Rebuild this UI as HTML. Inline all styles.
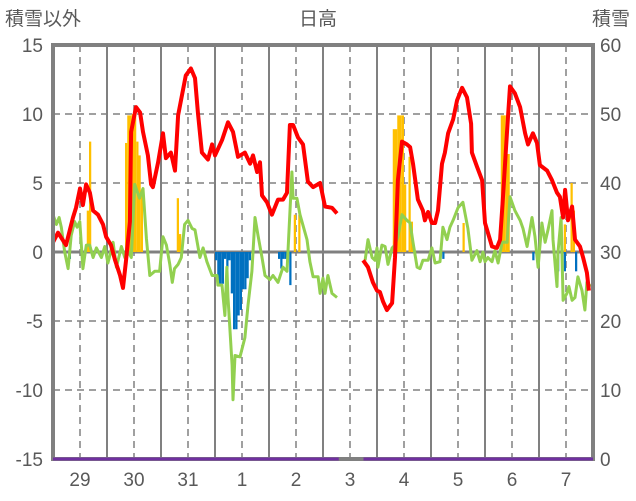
<!DOCTYPE html>
<html><head><meta charset="utf-8">
<style>
html,body{margin:0;padding:0;background:#fff;}
svg{display:block;font-family:"Liberation Sans","Noto Sans CJK JP",sans-serif;}
</style></head>
<body>
<svg id="chart" width="636" height="501">
<text x="5" y="25" font-size="19" fill="#595959">積雪以外</text>
<text x="318" y="25" font-size="19" fill="#595959" text-anchor="middle">日高</text>
<text x="592" y="25" font-size="19" fill="#595959">積雪</text>
<g id="grid"></g><g id="bars"></g><g id="lines"></g><g id="frame"></g><g id="labels"></g>
</svg>
<script>
const dayLabels=["29","30","31","1","2","3","4","5","6","7"];
const leftTicks=[15,10,5,0,-5,-10,-15];
const rightTicks=[60,50,40,30,20,10,0];
const redHours=[0,2.2,5.8,8.9,10.2,12,13.3,14.7,16.4,17.8,20,22.2,23.6,25.8,27.6,29.8,31.1,32.4,34.2,34.7,36.9,38.7,40,42.2,43.6,44.4,46.7,48.9,50.2,52.4,54.2,55.6,59,61.3,63.1,64.4,66.2,68.9,70.7,72,75.1,77.8,80,82.2,85.3,87.6,88.9,90.7,92,92.9,95.1,97.3,100,102.2,104,105.3,106.7,108.9,111.1,113.3,115.6,118.7,120.9,124,126.2,130,137.8,140,142.2,144,145.3,146.7,148.4,150.7,152,153.3,155.1,157.3,158.7,160,162.2,164.4,165.3,166.7,168.4,169.8,171.1,172.9,174.2,175.6,177.8,179.6,181.8,184,185.8,186.2,188.4,190.7,192,193.3,195.1,197.3,198.7,200,201.8,203.1,205.3,207.6,209.8,211.1,213.3,215.1,216.4,219.6,221.8,224,225.3,226.7,227.6,228.9,230.7,232,234.2,235.6,237.3,238.2];
const redVals=[0.7,1.4,0.5,2.5,3.2,4.6,3.4,4.9,4.3,3.0,2.7,2.0,1.1,0.5,-0.6,-1.7,-2.6,-0.7,2.2,8.7,10.5,10.1,8.7,7.0,4.9,4.7,6.5,8.6,6.8,7.2,5.9,9.9,12.8,13.3,12.6,10.1,7.2,6.7,7.8,7.0,8.1,9.4,8.7,6.9,7.2,6.4,7.0,5.8,6.5,4.1,3.6,2.7,3.8,3.8,4.3,9.2,9.2,8.3,7.8,5.1,4.7,5.0,3.3,3.2,2.8,null,-0.6,-1.1,-2.2,-2.8,-2.9,-3.6,-4.2,-3.7,-0.4,5.2,8.0,7.8,7.6,6.4,3.8,3.0,2.3,2.9,2.1,2.1,3.0,6.4,7.2,8.6,9.6,11.0,11.9,11.2,9.3,7.2,6.2,5.2,2.1,1.4,0.4,0.3,0.9,4.0,8.8,12.0,11.5,10.5,8.6,7.8,8.6,7.9,6.3,5.9,5.2,4.3,4.0,2.5,4.5,2.3,3.3,0.9,0.4,-0.4,-1.5,-2.8];
const greenHours=[0,1.5,2.7,3.7,5.2,6.7,8.1,9.6,10.7,11.9,13.3,14.8,16.3,17.8,19.3,21.5,23,24.4,26.7,28.2,30.4,31.9,33.3,34.8,36.3,38.5,40,41.5,43,45.2,47.4,48.9,50.4,51.9,53,54,55.6,57,58.5,60,61.8,63.1,65.3,66.7,68.4,70.7,72.9,73.3,75.1,76.4,77.3,77.8,79.6,80,80.9,83.1,85.3,86.7,88.4,89.8,91.1,92.9,94.2,96.4,97.8,100,102.2,104,106.2,106.7,108.4,109.8,112.9,114.2,115.6,117.8,118.7,120,120.9,122.2,124,126.2,130,138.7,140,141.8,143.1,144,144.4,146.2,147.6,148.9,150.7,152,153.3,155.1,157.3,158.7,160,161.8,163.1,164.4,166.7,168.4,169.8,172,173.3,175.1,176.4,177.8,180,182.2,184.4,186.2,188.4,189.8,191.1,192,193.3,195.1,196.4,197.8,199.6,201.8,203.1,205.3,207.6,208.9,210.7,212.9,214.2,215.6,217.3,218.7,220,221.8,222.2,224,224.4,225.8,226.7,228.4,229.3,230.7,232,233.3,235.1,236.4,237.3,239];
const greenVals=[2.7,2.0,2.5,1.8,0,-1.2,1.2,2.2,1.8,2.2,-1.2,0.5,0.5,-0.4,0.3,-0.4,0.4,-0.8,0.7,-1.1,0.4,-0.4,0.1,-0.4,4.9,3.9,4.6,1.0,-1.7,-1.4,-1.4,1.1,0.5,-0.9,-2.2,-1.2,-0.9,-0.4,2.0,2.3,1.7,1.6,-0.4,0.3,-0.7,-1.7,-1.7,-2.4,-2.4,-4.6,-1.1,-3.3,-8.2,-10.7,-7.5,-7.6,-6.2,-3.8,-1.4,2.5,1.2,-0.4,-1.7,-2.0,-1.7,-2.2,-1.1,-1.4,5.8,3.9,3.9,2.7,0.9,-0.7,-1.8,-1.8,-3.0,-1.9,-3.0,-1.7,-3.0,-3.3,null,-0.6,0.9,-0.4,-0.6,0.3,-1.1,0.5,0.4,-0.9,0.3,0.5,1.1,2.7,2.3,2.1,0.7,-1.1,-1.2,-0.6,-0.6,0.3,-0.8,-0.7,1.8,0.9,1.8,2.3,3.2,3.6,1.7,-0.6,0.1,-0.7,0,-0.7,-0.4,-0.7,0.1,-0.8,0.7,0.7,4.0,3.0,2.3,1.7,0.4,2.5,1.1,-1.1,2.1,0.7,1.6,3.0,0.9,-2.5,-0.1,2.5,-3.5,-3.0,-2.5,-3.5,-3.3,-1.8,-2.8,-4.2,-2.2,-2.5];
const orangeHours=[15,16,32,33,34,35,36,37,38,39,55,56,107,109,151,152,153,154,155,156,158,159,182,199,200,201,202,227,230,231];
const orangeVals=[3.0,8.0,7.9,9.9,9.9,10,10,8,7,4.5,3.9,1.3,2.7,2.7,8.9,8.9,9.9,9.9,9.9,4.9,6.9,2.2,2.1,9.9,9.9,9.9,7.1,2.0,5.0,3.0];
const blueHours=[7,72,73,74,75,76,77,78,79,80,81,82,83,84,85,86,87,100,101,102,103,105,173,213,224,227,232];
const blueVals=[-0.5,-0.6,-2.3,-2.3,-2.3,-0.5,-2.3,-0.6,-3.0,-5.6,-5.6,-4.6,-4.2,-2.7,-2.7,-1.9,-0.6,-0.5,-1.2,-0.5,-0.5,-2.4,-0.5,-0.6,-1.4,-1.4,-1.4];
const snowHours=[0,127,138,240];
const snowVals=[0,0,0,0];

const X0=53,X1=593,Y0=45,Y1=459,HOURS=240;
const xs=h=>X0+(h/HOURS)*(X1-X0);
const yl=v=>Y0+(15-v)/30*(Y1-Y0);
const yr=v=>Y0+(60-v)/60*(Y1-Y0);
const NS="http://www.w3.org/2000/svg";
function mk(tag,attrs,parent){const e=document.createElementNS(NS,tag);for(const k in attrs)e.setAttribute(k,attrs[k]);parent.appendChild(e);return e;}
const grid=document.getElementById('grid'),bars=document.getElementById('bars'),lines=document.getElementById('lines'),frame=document.getElementById('frame'),labels=document.getElementById('labels');

leftTicks.forEach((t,i)=>{
  const y=yl(t);
  if(t!==15&&t!==-15&&t!==0){const g=mk('line',{x1:X0,x2:X1,y1:y,y2:y,stroke:'#808080','stroke-width':1.5,'stroke-dasharray':'7,5'},grid);
  
  }
  const l=mk('text',{x:43,y:y+7,'font-size':19,fill:'#595959','text-anchor':'end'},labels);l.textContent=t;
  
  
  const r=mk('text',{x:600,y:yr(rightTicks[i])+7,'font-size':19,fill:'#595959'},labels);r.textContent=rightTicks[i];
  
  
});
dayLabels.forEach((d,i)=>{
  const xc=xs(i*24+12);
  const dl=mk('line',{x1:xc,x2:xc,y1:Y0,y2:Y1,stroke:'#808080','stroke-width':1.5,'stroke-dasharray':'7,5'},grid);
  
  
  if(i>0){const sl=mk('line',{x1:xs(i*24),x2:xs(i*24),y1:Y0,y2:Y1,stroke:'#808080','stroke-width':2},grid);
  
  }
  const t=mk('text',{x:xc,y:486,'font-size':19,fill:'#595959','text-anchor':'middle'},labels);t.textContent=d;
  
  
});
const bw=(X1-X0)/HOURS;
orangeHours.forEach((h,i)=>{const v=orangeVals[i];
  const b=mk('rect',{x:xs(h),y:yl(v),width:bw,height:yl(0)-yl(v),fill:'#FFC000'},bars);
  
  });
blueHours.forEach((h,i)=>{const v=blueVals[i];
  const b=mk('rect',{x:xs(h),y:yl(0),width:bw,height:yl(v)-yl(0),fill:'#0070C0'},bars);
  
  });
const zl=mk('line',{x1:X0,x2:X1,y1:yl(0),y2:yl(0),stroke:'#808080','stroke-width':3},grid);


function path(hs,vs,yf){let d='',pen=false;hs.forEach((h,i)=>{const v=vs[i];if(v===null){pen=false;return;}d+=(pen?'L':'M')+xs(h).toFixed(1)+','+yf(v).toFixed(1);pen=true;});return d;}
const gp=mk('path',{d:path(greenHours,greenVals,yl),fill:'none',stroke:'#92D050','stroke-width':3,'stroke-linejoin':'round'},lines);


const rp=mk('path',{d:path(redHours,redVals,yl),fill:'none',stroke:'#FF0000','stroke-width':4,'stroke-linejoin':'round'},lines);


const fr=mk('rect',{x:X0,y:Y0,width:X1-X0,height:Y1-Y0,fill:'none',stroke:'#808080','stroke-width':4},frame);


const sp=mk('path',{d:'M'+xs(snowHours[0])+','+yr(snowVals[0])+'L'+xs(snowHours[1])+','+yr(snowVals[1])+'M'+xs(snowHours[2])+','+yr(snowVals[2])+'L'+xs(snowHours[3])+','+yr(snowVals[3]),fill:'none',stroke:'#7030A0','stroke-width':3},frame);


</script>
</body></html>
